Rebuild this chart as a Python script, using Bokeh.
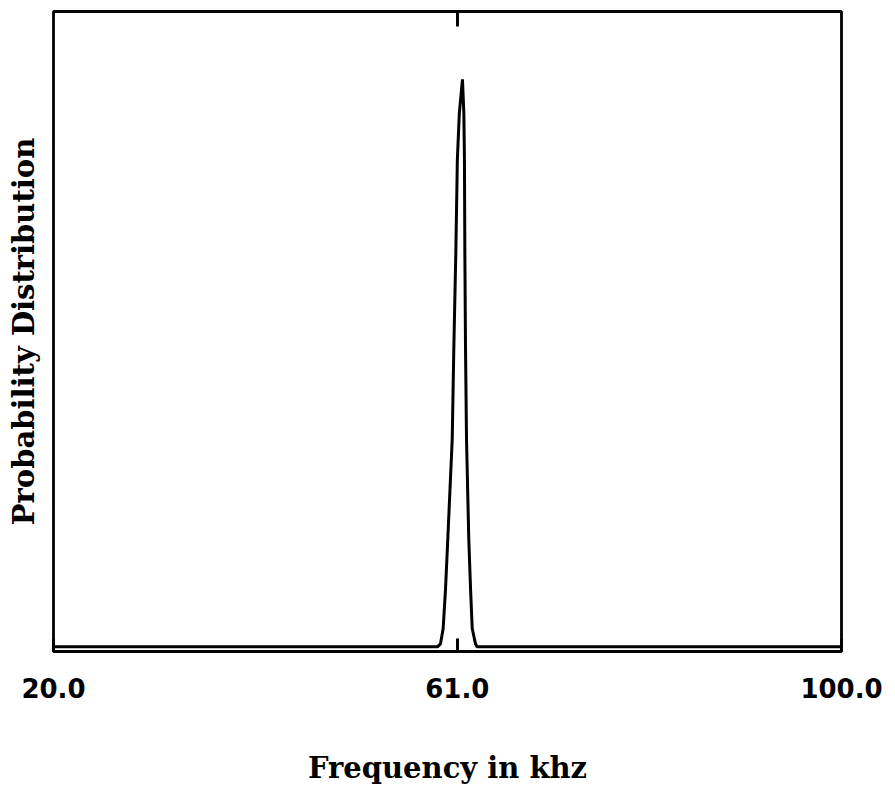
from bokeh.plotting import figure
from bokeh.models import FixedTicker, LinearAxis, Range1d
from bokeh.embed import file_html
from bokeh.resources import INLINE

# Data
freq = [20.0, 59.0, 59.29, 59.56, 59.80, 60.03, 60.48, 60.64, 60.85, 61.0, 61.2,
        61.52, 61.66, 61.72, 61.76, 61.83, 61.93, 62.16, 62.34, 62.51, 62.84, 63.0, 100.0]
prob = [0.0, 0.0, 0.005, 0.032, 0.102, 0.190, 0.366, 0.524, 0.699, 0.858, 0.94,
        1.0, 0.94, 0.858, 0.699, 0.524, 0.366, 0.190, 0.102, 0.032, 0.005, 0.0, 0.0]
tick_values = [20, 61, 100]
tick_labels = ["20.0", "61.0", "100.0"]
top_ticks = [61]

p = figure(width=887, height=788, output_backend="svg", toolbar_location=None,
           x_range=Range1d(20, 100), y_range=Range1d(-0.0085, 1.1195),
           min_border_left=53, min_border_right=46, min_border_top=11, min_border_bottom=137)
p.background_fill_color = "white"
p.border_fill_color = "white"
p.outline_line_color = "black"
p.outline_line_width = 2.8
p.grid.visible = False

p.line(freq, prob, line_color="black", line_width=3)

xa = p.xaxis[0]
xa.ticker = FixedTicker(ticks=tick_values)
xa.major_label_overrides = {v: l for v, l in zip(tick_values, tick_labels)}
xa.axis_line_color = None
xa.major_tick_in = 13
xa.major_tick_out = 0
xa.major_tick_line_width = 3
xa.minor_tick_line_color = None
xa.major_label_standoff = 26
xa.major_label_text_font = "DejaVu Sans"
xa.major_label_text_font_style = "bold"
xa.major_label_text_font_size = "26px"
xa.major_label_text_color = "black"
xa.axis_label = "Frequency in khz"
xa.axis_label_standoff = 50
xa.axis_label_text_font = "DejaVu Serif"
xa.axis_label_text_font_style = "bold"
xa.axis_label_text_font_size = "29px"
xa.axis_label_text_color = "black"

ya = p.yaxis[0]
ya.ticker = FixedTicker(ticks=[])
ya.axis_line_color = None
ya.major_tick_line_color = None
ya.minor_tick_line_color = None
ya.major_label_standoff = 0
ya.axis_label = "Probability Distribution"
ya.axis_label_standoff = 13
ya.axis_label_text_font = "DejaVu Serif"
ya.axis_label_text_font_style = "bold"
ya.axis_label_text_font_size = "29px"
ya.axis_label_text_color = "black"

top = LinearAxis(ticker=FixedTicker(ticks=top_ticks), axis_line_color=None,
                 major_tick_in=15, major_tick_out=0, major_tick_line_width=3,
                 minor_tick_line_color=None, major_label_overrides={61: ""},
                 major_label_standoff=0)
p.add_layout(top, "above")

open("out.html", "w").write(file_html(p, INLINE))
